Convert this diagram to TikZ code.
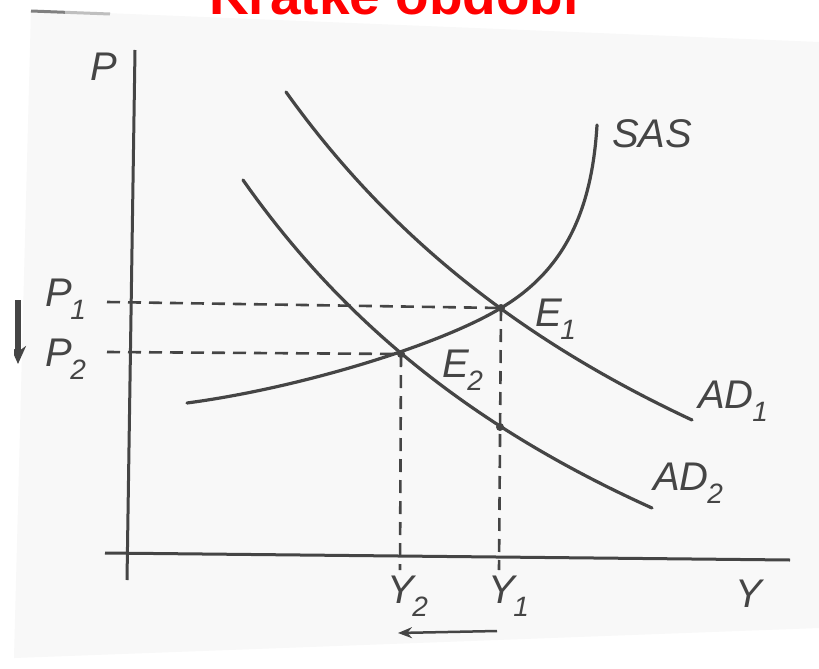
\documentclass[tikz,border=0pt]{standalone}
\usepackage{fontspec}
\setmainfont{Liberation Sans}
\usetikzlibrary{arrows.meta}
\definecolor{ink}{HTML}{454545}
\definecolor{scan}{HTML}{F8F8F8}
\newcommand\sbs[1]{\kern-1.5pt\raisebox{-13pt}{\fontsize{28}{28}\selectfont #1}}
\begin{document}
\begin{tikzpicture}[x=1pt,y=-1pt,
  curve/.style={line width=3.2pt, draw=ink, line cap=round},
  axisline/.style={line width=3pt, draw=ink},
  guide/.style={line width=2.6pt, draw=ink, dash pattern=on 13pt off 8pt},
  lbl/.style={text=ink, font=\fontsize{40}{40}\selectfont\itshape, inner sep=0pt, anchor=base west},
  dot/.style={circle, fill=ink, inner sep=0pt, minimum size=8pt}]
\useasboundingbox (0,0) rectangle (819,669);
\fill[white] (0,0) rectangle (819,669);
\fill[scan] (31,10) -- (819,42) -- (819,628) -- (14,658) -- cycle;
\draw[line width=3pt, black!50] (31,11) -- (65,12.3);
\draw[line width=3pt, black!25] (65,12.3) -- (110,14);
% title (cut off at top edge, as in the reference)
\node[anchor=base, text=red, font=\fontsize{55}{55}\selectfont\bfseries, inner sep=0pt] (title) at (394,15) {Kratké období};
% coordinates
\coordinate (yTop) at (135,50);
\coordinate (yBot) at (127,580);
\coordinate (xL) at (105,553);
\coordinate (xR) at (790,560);
\coordinate (E1) at (501,308);
\coordinate (E2) at (401,354);
\coordinate (F) at (500,427);
\coordinate (p1s) at (107,302);
\coordinate (p2s) at (107,352);
\coordinate (y2e) at (400,570);
\coordinate (y1e) at (499,570);
\coordinate (arrR) at (497,631);
\coordinate (arrL) at (398,633);
\coordinate (sasS) at (187,403);
\coordinate (sasT) at (597,125);
% axes
\draw[axisline] (yTop) -- (yBot);
\draw[axisline] (xL) -- (xR);
% guides
\draw[guide] (p1s) -- (E1);
\draw[guide] (p2s) -- (E2);
\draw[guide] (E2) -- (y2e);
\draw[guide] (E1) -- (y1e);
% curves
\draw[curve] (sasS) .. controls (300,388) and (440,345) .. (E1) .. controls (565,270) and (592,210) .. (sasT);
\draw[curve] plot[domain=286:692, samples=60] (\x, {869.2 - 4321.3/((\x+270)/100)});
\draw[curve] plot[domain=243:652, samples=60] (\x, {930.4 - 3952.26/((\x+283.7)/100)});
% dots
\node[dot] (dE1) at (E1) {};
\node[dot] (dE2) at (E2) {};
\node[dot] (dF) at (F) {};
% labels
\node[lbl] (lP) at (90,81) {P};
\node[lbl] (lP1) at (45,306) {P\sbs{1}};
\node[lbl] (lP2) at (45,366) {P\sbs{2}};
\node[lbl] (lE1) at (535,326) {E\sbs{1}};
\node[lbl] (lE2) at (442,377) {E\sbs{2}};
\node[lbl] (lSAS) at (612,147) {SAS};
\node[lbl] (lAD1) at (698,408) {AD\sbs{1}};
\node[lbl] (lAD2) at (653,490) {AD\sbs{2}};
\node[lbl] (lY2) at (387,603) {Y\sbs{2}};
\node[lbl] (lY1) at (488,603) {Y\sbs{1}};
\node[lbl] (lY) at (735,607) {Y};
% shift arrow
\draw[line width=2.5pt, draw=ink, -{Stealth[length=14pt,width=11pt]}] (arrR) -- (arrL);
% left arrow (cut by scan edge)
\begin{scope}
\clip (14,0) rectangle (60,669);
\coordinate (laT) at (18,300);
\coordinate (laB) at (18,364);
\draw[line width=6pt, draw=ink, -{Stealth[length=18pt,width=16pt]}] (laT) -- (laB);
\end{scope}
\end{tikzpicture}
\end{document}
